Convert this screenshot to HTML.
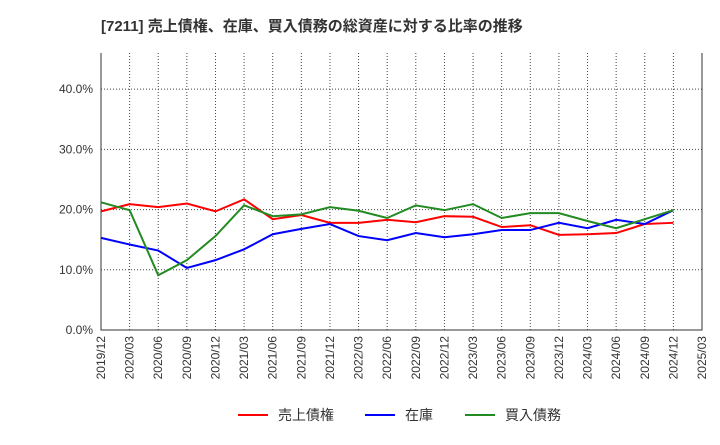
<!DOCTYPE html>
<html><head><meta charset="utf-8"><style>
body{margin:0;background:#fff;font-family:"Liberation Sans","Noto Sans CJK JP",sans-serif;}
#wrap{position:relative;width:720px;height:440px;}
</style></head><body>
<div id="wrap">
<svg id="chart" width="720" height="440">
<text x="101" y="31" font-size="15" font-weight="bold" fill="#333" font-family="Liberation Sans, Noto Sans CJK JP, sans-serif">[7211]  売上債権、在庫、買入債務の総資産に対する比率の推移</text>
</svg>
</div>
<script>
const categories=["2019/12","2020/03","2020/06","2020/09","2020/12","2021/03","2021/06","2021/09","2021/12","2022/03","2022/06","2022/09","2022/12","2023/03","2023/06","2023/09","2023/12","2024/03","2024/06","2024/09","2024/12","2025/03"];
const receivables=[19.7,20.9,20.4,21.0,19.7,21.7,18.4,19.1,17.8,17.8,18.3,17.9,18.9,18.8,17.1,17.4,15.8,15.9,16.1,17.6,17.8];
const inventory=[15.3,14.2,13.2,10.3,11.6,13.4,15.9,16.8,17.6,15.6,14.9,16.1,15.4,15.9,16.6,16.6,17.8,16.9,18.3,17.6,19.9];
const payables=[21.2,19.9,9.1,11.6,15.6,20.7,18.9,19.2,20.4,19.8,18.6,20.7,19.9,20.9,18.6,19.4,19.4,18.1,16.9,18.4,19.9];
const yTicks=[0,10,20,30,40];
const seriesNames=["売上債権","在庫","買入債務"];
const L=101,R=702,T=53,B=330,YMAX=46;
const NS="http://www.w3.org/2000/svg";
const svg=document.getElementById('chart');
const x=i=>L+(R-L)*i/(categories.length-1);
const y=v=>B-(B-T)*v/YMAX;
function mk(tag,attrs,parent){const e=document.createElementNS(NS,tag);for(const k in attrs)e.setAttribute(k,attrs[k]);(parent||svg).appendChild(e);return e;}
const bg=mk('rect',{x:L,y:T,width:R-L,height:B-T,fill:'#fff',stroke:'none'});


categories.forEach((c,i)=>{
 const g=mk('line',{x1:x(i),x2:x(i),y1:T,y2:B,stroke:'#444','stroke-width':1,'stroke-dasharray':'1,2'});
 
 
 const t=mk('text',{x:0,y:0,'font-size':12,fill:'#333','text-anchor':'end',transform:`translate(${x(i)+4},${B+6}) rotate(-90)`});
 t.textContent=c;
 
 
});
yTicks.forEach(v=>{
 const g=mk('line',{x1:L,x2:R,y1:y(v),y2:y(v),stroke:'#444','stroke-width':1,'stroke-dasharray':'1,2'});
 
 
 const t=mk('text',{x:L-8,y:y(v)+4,'font-size':12,fill:'#333','text-anchor':'end'});
 t.textContent=v.toFixed(1)+'%';
 
 
});
const ax=mk('path',{d:`M${L},${T}V${B}H${R}V${T}`,fill:'none',stroke:'#333','stroke-width':1});


const colors=['#ff0000','#0000ff','#228b22'];
[receivables,inventory,payables].forEach((d,si)=>{
 const p=mk('polyline',{points:d.map((v,i)=>x(i)+','+y(v)).join(' '),fill:'none',stroke:colors[si],'stroke-width':2});
 
 
});
const lx=[238,365,465];
seriesNames.forEach((n,i)=>{
 const l=mk('line',{x1:lx[i],x2:lx[i]+30,y1:415,y2:415,stroke:colors[i],'stroke-width':2});
 
 
 const t=mk('text',{x:lx[i]+40,y:420,'font-size':14,fill:'#333'});
 t.textContent=n;
 
 
});
</script>
</body></html>
